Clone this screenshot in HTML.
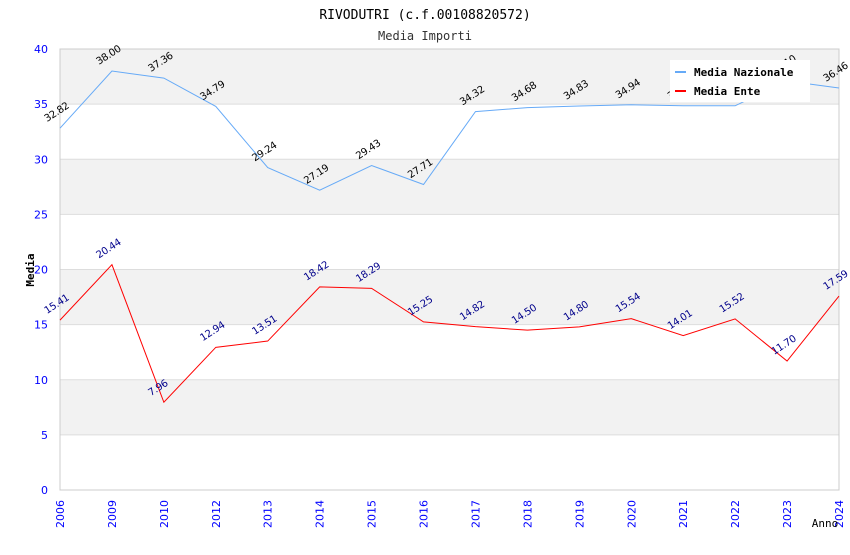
<!DOCTYPE html>
<html><head><meta charset="utf-8"><style>
body{margin:0;background:#fff;}
svg text{font-family:"DejaVu Sans","Liberation Sans",sans-serif;}
</style></head><body>
<svg id="c" width="850" height="550" xmlns="http://www.w3.org/2000/svg">
<text x="425" y="19" text-anchor="middle" font-size="13" fill="#000" style="font-family:'DejaVu Sans Mono','Liberation Mono',monospace">RIVODUTRI (c.f.00108820572)</text>
<text x="425" y="40" text-anchor="middle" font-size="12" fill="#333" style="font-family:'DejaVu Sans Mono','Liberation Mono',monospace">Media Importi</text>
<g id="bands"></g><g id="grid"></g><g id="axes"></g><g id="series"></g><g id="labels"></g>
<text transform="translate(34,270) rotate(-90)" text-anchor="middle" font-size="11" font-weight="bold" style="font-family:'DejaVu Sans Mono','Liberation Mono',monospace">Media</text>
<text x="825" y="527" text-anchor="middle" font-size="11" style="font-family:'DejaVu Sans Mono','Liberation Mono',monospace">Anno</text>
<g>
<rect x="670" y="60" width="140" height="42" fill="#fff"/>
<line x1="675" y1="72" x2="686" y2="72" stroke="#66aaf7" stroke-width="2"/>
<text x="694" y="76" font-size="11" font-weight="bold" style="font-family:'DejaVu Sans Mono','Liberation Mono',monospace">Media Nazionale</text>
<line x1="675" y1="91" x2="686" y2="91" stroke="#f00" stroke-width="2"/>
<text x="694" y="95" font-size="11" font-weight="bold" style="font-family:'DejaVu Sans Mono','Liberation Mono',monospace">Media Ente</text>
</g>
</svg>
<script>
const categories=["2006","2009","2010","2012","2013","2014","2015","2016","2017","2018","2019","2020","2021","2022","2023","2024"];
const nazionale=[32.82,38.00,37.36,34.79,29.24,27.19,29.43,27.71,34.32,34.68,34.83,34.94,34.85,34.85,37.10,36.46];
const ente=[15.41,20.44,7.96,12.94,13.51,18.42,18.29,15.25,14.82,14.50,14.80,15.54,14.01,15.52,11.70,17.59];
const yTicks=[0,5,10,15,20,25,30,35,40];
const NS="http://www.w3.org/2000/svg";
const L=60,R=839,T=49,B=490,YMAX=40;
const x=i=>L+i*(R-L)/(categories.length-1);
const y=v=>B-v*(B-T)/YMAX;
function mk(tag,attrs,parent){const e=document.createElementNS(NS,tag);for(const k in attrs)e.setAttribute(k,attrs[k]);document.getElementById(parent).appendChild(e);return e;}
for(let i=0;i<yTicks.length-1;i++){
 if(i%2===1){const r=mk('rect',{x:L,y:y(yTicks[i+1]),width:R-L,height:y(yTicks[i])-y(yTicks[i+1]),fill:'#f2f2f2'},'bands');
 
 }
}
yTicks.forEach(t=>{
 const g=mk('line',{x1:L,x2:R,y1:y(t),y2:y(t),stroke:'#ddd'},'grid');
 
 
 const tx=mk('text',{x:L-12,y:y(t)+4,'text-anchor':'end','font-size':11,fill:'#00f'},'axes');
 tx.textContent=t;
 
 
});
mk('rect',{x:L,y:T,width:R-L,height:B-T,fill:'none',stroke:'#ccc'},'axes');
categories.forEach((c,i)=>{
 const tx=mk('text',{transform:`translate(${x(i)+4},${B+38}) rotate(-90)`,'font-size':11,fill:'#00f'},'axes');
 tx.textContent=c;
 
 
});
function series(data,color,lblColor,name){
 const p=mk('polyline',{points:data.map((v,i)=>x(i)+','+y(v)).join(' '),fill:'none',stroke:color,'stroke-width':1},'series');
 
 
 data.forEach((v,i)=>{
  const t=mk('text',{transform:`translate(${x(i)-13},${y(v)-6}) rotate(-33)`,'font-size':10,fill:lblColor,'letter-spacing':'-0.3'},'labels');
  t.textContent=v.toFixed(2);
  
  
 });
}
series(nazionale,'#66aaf7','#000','nazionale');
series(ente,'#f00','#00008b','ente');
</script>
</body></html>
